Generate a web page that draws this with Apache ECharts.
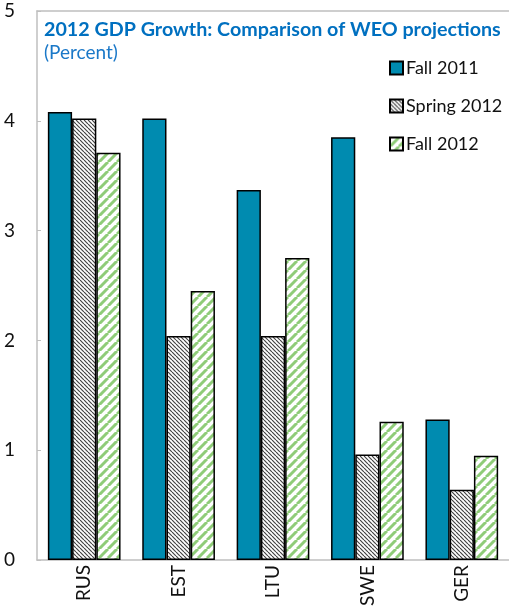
<!DOCTYPE html>
<html>
<head>
<meta charset="utf-8">
<script src="https://cdn.jsdelivr.net/npm/echarts@6/dist/echarts.min.js"></script>
<style>
  html, body { margin: 0; padding: 0; background: #fff; }
  #chart { width: 509px; height: 610px; }
</style>
</head>
<body>
<div id="chart"></div>
<script>
// Countries and the three WEO projection vintages (percent)
const categories = ['RUS', 'EST', 'LTU', 'SWE', 'GER'];
const fall2011 = [4.08, 4.02, 3.37, 3.85, 1.28];
const spring2012 = [4.02, 2.04, 2.04, 0.96, 0.64];
const fall2012 = [3.71, 2.45, 2.75, 1.26, 0.95];
const yTicks = [0, 1, 2, 3, 4, 5];

const FONT = 'Lato';

// Diagonal stripe tile used as a repeating fill
function stripes(size, lineWidth, color, dir) {
  const c = document.createElement('canvas');
  c.width = size; c.height = size;
  const ctx = c.getContext('2d');
  ctx.fillStyle = '#fff';
  ctx.fillRect(0, 0, size, size);
  ctx.strokeStyle = color;
  ctx.lineWidth = lineWidth;
  for (let k = -1; k <= 1; k++) {
    ctx.beginPath();
    if (dir === 'down') {
      ctx.moveTo(k * size, 0);
      ctx.lineTo(k * size + size, size);
    } else {
      ctx.moveTo(k * size, size);
      ctx.lineTo(k * size + size, 0);
    }
    ctx.stroke();
  }
  return { image: c, repeat: 'repeat' };
}

const springFill = stripes(4, 1.2, '#444', 'down');
const fall12Fill = stripes(9, 3, '#8fcc78', 'up');

const chart = echarts.init(document.getElementById('chart'), null, { renderer: 'canvas' });

const barBorder = { borderColor: '#000', borderWidth: 1.5 };

chart.setOption({
  animation: false,
  title: {
    text: '2012 GDP Growth: Comparison of WEO projections',
    subtext: '(Percent)',
    left: 39,
    top: 15,
    itemGap: 3,
    textStyle: { fontFamily: FONT, fontSize: 19.7, fontWeight: 'bold', color: '#0070C0' },
    subtextStyle: { fontFamily: FONT, fontSize: 19, color: '#1a78c8' }
  },
  legend: {
    orient: 'vertical',
    left: 384,
    top: 53,
    itemWidth: 13,
    itemHeight: 13,
    itemGap: 18,
    icon: 'rect',
    textStyle: { fontFamily: FONT, fontSize: 18, color: '#111', lineHeight: 20, padding: [0, 0, 0, -2] },
    data: ['Fall 2011', 'Spring 2012', 'Fall 2012']
  },
  grid: { left: 37, top: 11, right: 0, bottom: 50, containLabel: false },
  xAxis: [
    {
      type: 'category',
      data: categories,
      axisLine: { lineStyle: { color: '#bfbfbf', width: 1.5 } },
      axisTick: { inside: true, length: 5, lineStyle: { color: '#bfbfbf' } },
      axisLabel: { rotate: 90, margin: 5, fontFamily: FONT, fontSize: 19, color: '#111' }
    },
    {
      type: 'category',
      data: categories,
      position: 'top',
      axisLine: { lineStyle: { color: '#bfbfbf', width: 1.5 } },
      axisTick: { show: false },
      axisLabel: { show: false }
    }
  ],
  yAxis: {
    type: 'value',
    min: yTicks[0],
    max: yTicks[yTicks.length - 1],
    interval: 1,
    splitLine: { show: false },
    axisLine: { show: true, lineStyle: { color: '#bfbfbf', width: 1.5 } },
    axisTick: { show: true, inside: true, length: 4, lineStyle: { color: '#bfbfbf' } },
    axisLabel: { margin: 22, fontFamily: FONT, fontSize: 19, color: '#111' }
  },
  series: [
    {
      name: 'Fall 2011', type: 'bar', data: fall2011,
      barGap: '0%', barCategoryGap: '23%',
      itemStyle: Object.assign({ color: '#008bb0' }, barBorder)
    },
    {
      name: 'Spring 2012', type: 'bar', data: spring2012,
      itemStyle: Object.assign({ color: springFill }, barBorder)
    },
    {
      name: 'Fall 2012', type: 'bar', data: fall2012,
      itemStyle: Object.assign({ color: fall12Fill }, barBorder)
    }
  ]
});
</script>
</body>
</html>
